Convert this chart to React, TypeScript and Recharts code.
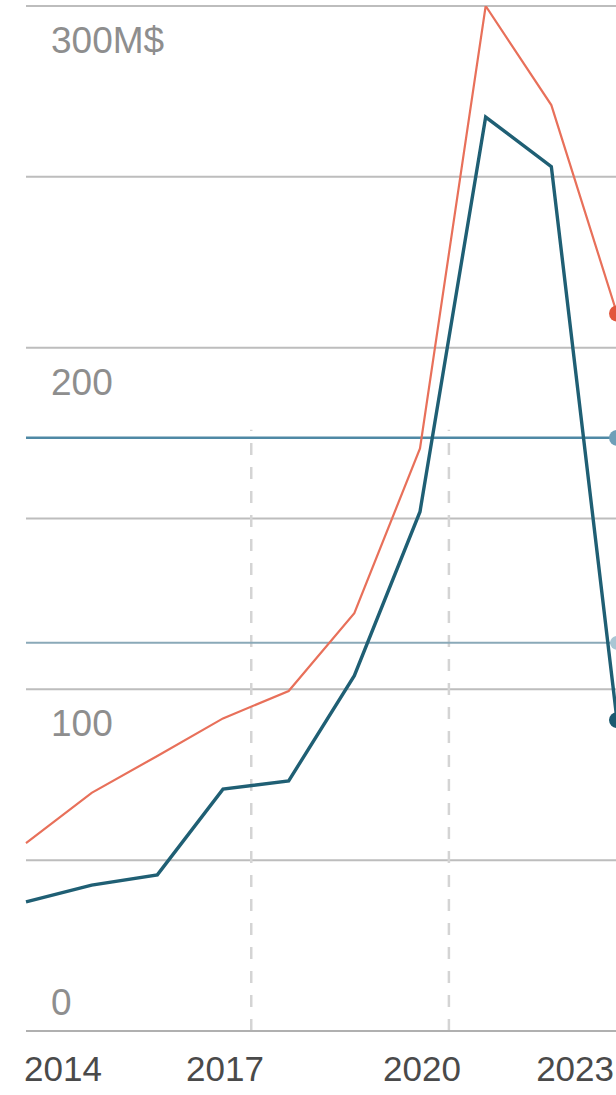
import React from "react";
import { LineChart, Line, XAxis, YAxis, CartesianGrid, ReferenceLine, ReferenceDot } from "recharts";

const years = [2014, 2015, 2016, 2017, 2018, 2019, 2020, 2021, 2022, 2023];
const seriesRed = [55, 69.7, 80.5, 91.5, 99.5, 122.3, 170.5, 300, 271, 210];
const seriesTeal = [37.8, 42.7, 45.7, 70.8, 73.2, 104, 152, 267.5, 253, 91];
const yTicks = [0, 50, 100, 150, 200, 250, 300];
const xTicks = [2014, 2017, 2020, 2023];
const refLevels = [173.6, 113.6];
const eventYears = [2017.43, 2020.44];

const data = years.map((y, i) => ({ year: y, red: seriesRed[i], teal: seriesTeal[i] }));

const FONT = "'Liberation Sans', Arial, sans-serif";

const YTick = (props: any) => {
  const { x, y, payload } = props;
  const v = payload.value;
  if (v % 100 !== 0) return null;
  const label = v === 300 ? "300M$" : String(v);
  const dy = v === 0 ? -16 : 47;
  return (
    <text x={x + 25} y={y + dy} textAnchor="start" fill="#8e8e8e" fontSize={37} fontFamily={FONT}>
      {label}
    </text>
  );
};

const XTick = (props: any) => {
  const { x, y, payload, index } = props;
  const last = xTicks.length - 1;
  const anchor = index === 0 ? "start" : index === last ? "end" : "middle";
  const dx = index === 0 ? -2 : index === last ? -3 : 2;
  return (
    <text x={x + dx} y={y + 42} textAnchor={anchor} fill="#4a4a4a" fontSize={35} fontFamily={FONT}>
      {payload.value}
    </text>
  );
};

const lastDot = (color: string) => (props: any) => {
  const { cx, cy, index } = props;
  if (index !== years.length - 1) return <g key={index} />;
  return <circle key={index} cx={cx} cy={cy} r={8} fill={color} />;
};

export default function App() {
  return (
    <div style={{ position: "absolute", left: 0, top: 0, width: 616, height: 1095, overflow: "hidden", background: "#fff" }}>
      <LineChart width={640} height={1095} data={data} margin={{ top: 6, right: 23, left: 0, bottom: 0 }}>
        <CartesianGrid vertical={false} stroke="#bdbdbd" strokeWidth={2} />
        <XAxis
          dataKey="year"
          type="number"
          domain={[2014, 2023]}
          ticks={xTicks}
          height={64}
          axisLine={{ stroke: "#b0b0b0", strokeWidth: 2 }}
          tickLine={false}
          tick={<XTick />}
          interval={0}
        />
        <YAxis
          type="number"
          domain={[0, 300]}
          ticks={yTicks}
          width={26}
          axisLine={false}
          tickLine={false}
          tickSize={0}
          tickMargin={0}
          tick={<YTick />}
          interval={0}
          allowDataOverflow
        />
        {eventYears.map((ey) => (
          <ReferenceLine
            key={ey}
            segment={[{ x: ey, y: 0 }, { x: ey, y: 176 }]}
            stroke="#d4d4d4"
            strokeWidth={2.5}
            strokeDasharray="12 12"
          />
        ))}
        <ReferenceLine y={refLevels[0]} stroke="#4f89a5" strokeWidth={2.5} />
        <ReferenceLine y={refLevels[1]} stroke="#8aa9b8" strokeWidth={2} />
        <ReferenceDot x={2023} y={refLevels[0]} r={8} fill="#6f9fb8" stroke="none" ifOverflow="visible" />
        <ReferenceDot x={2023} y={refLevels[1]} r={7} fill="#a9c6d4" stroke="none" ifOverflow="visible" />
        <Line
          type="linear"
          dataKey="red"
          stroke="#e8705a"
          strokeWidth={2.2}
          dot={lastDot("#e2553c")}
          isAnimationActive={false}
        />
        <Line
          type="linear"
          dataKey="teal"
          stroke="#1f5f74"
          strokeWidth={3.4}
          dot={lastDot("#1a5a70")}
          isAnimationActive={false}
        />
      </LineChart>
    </div>
  );
}
